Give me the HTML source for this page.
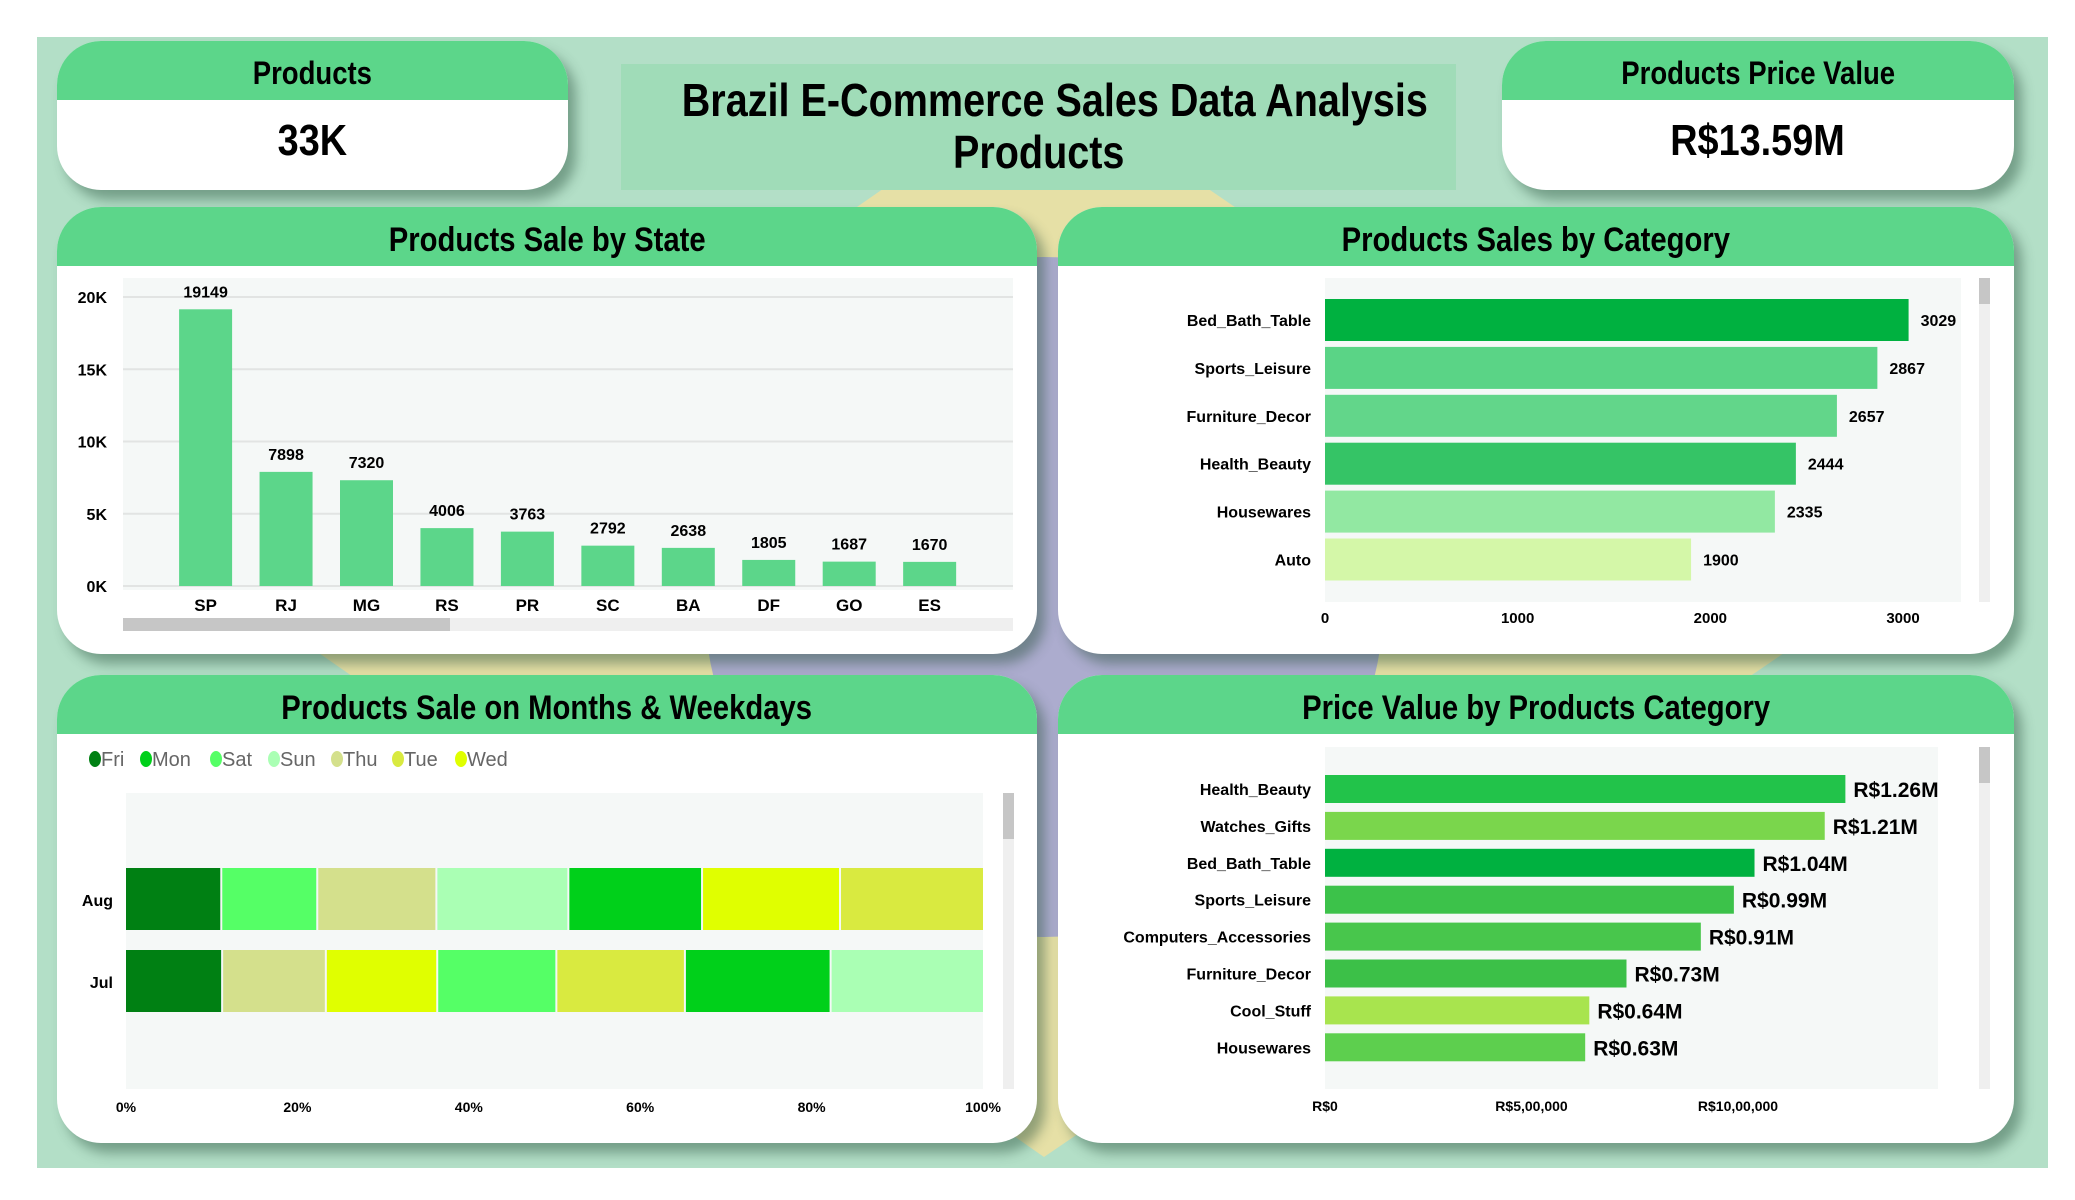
<!DOCTYPE html>
<html><head><meta charset="utf-8">
<style>
*{margin:0;padding:0;box-sizing:border-box}
body{width:2075px;height:1200px;background:#fff;position:relative;overflow:hidden;font-family:"Liberation Sans Narrow","Liberation Sans",sans-serif}
.panel{position:absolute;left:37px;top:37px;width:2011px;height:1131px;background:#b3dfc7;overflow:hidden}
.card{position:absolute;background:#fff;border-radius:44px;overflow:hidden;box-shadow:8px 10px 12px rgba(40,80,60,.45)}
.hdr{position:absolute;left:0;top:0;right:0;background:#5cd68a;color:#000;font-weight:bold;text-align:center;white-space:nowrap}
.kpi{position:absolute;left:0;right:0;text-align:center;font-weight:bold;color:#000;white-space:nowrap}
.sq{display:inline-block;transform:scaleX(.86);transform-origin:center}
svg text{font-family:"Liberation Sans Narrow","Liberation Sans",sans-serif}
</style></head><body>
<div class="panel">
 <svg width="2011" height="1131" style="position:absolute;left:0;top:0">
  <polygon points="1007,40 1800,580 1007,1120 230,580" fill="#e6e0a6"/>
  <circle cx="1007" cy="560" r="340" fill="#acacce"/>
 </svg>
</div>
<div style="position:absolute;left:621px;top:64px;width:835px;height:126px;background:#a0dcb8;text-align:center;font-weight:bold;font-size:46px;line-height:52px;padding-top:10px;white-space:nowrap"><span class="sq">Brazil E-Commerce Sales Data Analysis</span><br><span class="sq">Products</span></div>

<div class="card" style="left:57px;top:41px;width:511px;height:149px">
 <div class="hdr" style="height:59px;font-size:32px;line-height:64px"><span class="sq">Products</span></div>
 <div class="kpi" style="top:72px;font-size:44px;line-height:56px"><span class="sq">33K</span></div>
</div>
<div class="card" style="left:1502px;top:41px;width:512px;height:149px">
 <div class="hdr" style="height:59px;font-size:32px;line-height:64px"><span class="sq">Products Price Value</span></div>
 <div class="kpi" style="top:72px;font-size:44px;line-height:56px"><span class="sq">R$13.59M</span></div>
</div>
<div class="card" style="left:57px;top:207px;width:980px;height:447px">
 <div class="hdr" style="height:59px;font-size:34px;line-height:66px"><span class="sq">Products Sale by State</span></div>
</div>
<div class="card" style="left:1058px;top:207px;width:956px;height:447px">
 <div class="hdr" style="height:59px;font-size:34px;line-height:66px"><span class="sq">Products Sales by Category</span></div>
</div>
<div class="card" style="left:57px;top:675px;width:980px;height:468px">
 <div class="hdr" style="height:59px;font-size:34px;line-height:66px"><span class="sq">Products Sale on Months &amp; Weekdays</span></div>
</div>
<div class="card" style="left:1058px;top:675px;width:956px;height:468px">
 <div class="hdr" style="height:59px;font-size:34px;line-height:66px"><span class="sq">Price Value by Products Category</span></div>
</div>

<svg id="ov" width="2075" height="1200" style="position:absolute;left:0;top:0"></svg>

<script>
const stateCats=["SP","RJ","MG","RS","PR","SC","BA","DF","GO","ES"];
const stateVals=[19149,7898,7320,4006,3763,2792,2638,1805,1687,1670];
const stateTicks=[0,5000,10000,15000,20000];
const stateTickLabels=["0K","5K","10K","15K","20K"];

const catNames=["Bed_Bath_Table","Sports_Leisure","Furniture_Decor","Health_Beauty","Housewares","Auto"];
const catVals=[3029,2867,2657,2444,2335,1900];
const catTicks=[0,1000,2000,3000];

const priceNames=["Health_Beauty","Watches_Gifts","Bed_Bath_Table","Sports_Leisure","Computers_Accessories","Furniture_Decor","Cool_Stuff","Housewares"];
const priceVals=[1.26,1.21,1.04,0.99,0.91,0.73,0.64,0.63];
const priceLabels=["R$1.26M","R$1.21M","R$1.04M","R$0.99M","R$0.91M","R$0.73M","R$0.64M","R$0.63M"];
const priceTicks=[0,0.5,1.0];
const priceTickLabels=["R$0","R$5,00,000","R$10,00,000"];

const months=["Aug","Jul"];
const weekdays=["Fri","Mon","Sat","Sun","Thu","Tue","Wed"];
const augOrder=["Fri","Sat","Thu","Sun","Mon","Wed","Tue"];
const augPct=[11.0,11.2,13.9,15.4,15.6,16.1,16.8];
const julOrder=["Fri","Thu","Wed","Sat","Tue","Mon","Sun"];
const julPct=[11.1,12.1,13.0,13.9,15.0,17.0,17.9];
const pctTicks=[0,20,40,60,80,100];

const NS="http://www.w3.org/2000/svg";
const ov=document.getElementById('ov');
function mk(tag,attrs,txt){const e=document.createElementNS(NS,tag);for(const k in attrs)e.setAttribute(k,attrs[k]);if(txt!==undefined)e.textContent=txt;ov.appendChild(e);return e;}

/* ---- State chart ---- */
const sX0=123,sX1=1013,sYTop=278,sY0=586,sY20=297;
const sy=v=>sY0-(v/20000)*(sY0-sY20);
const sx=i=>205.6+i*80.45;
let e=mk('rect',{x:sX0,y:sYTop,width:sX1-sX0,height:sY0-sYTop+4,fill:'#f5f8f7'});

stateTicks.forEach((t,i)=>{
 e=mk('line',{x1:sX0,x2:sX1,y1:sy(t),y2:sy(t),stroke:'#e2e4e3','stroke-width':2});
 
 e=mk('text',{x:107,y:sy(t)+6,'text-anchor':'end','font-size':16,'font-weight':'bold'},stateTickLabels[i]);
 
});
stateVals.forEach((v,i)=>{
 e=mk('rect',{x:sx(i)-26.5,y:sy(v),width:53,height:sY0-sy(v),fill:'#5cd68a'});
 
 e=mk('text',{x:sx(i),y:sy(v)-12,'text-anchor':'middle','font-size':16,'font-weight':'bold'},String(v));
 
 e=mk('text',{x:sx(i),y:611,'text-anchor':'middle','font-size':17,'font-weight':'bold'},stateCats[i]);
 
});
e=mk('rect',{x:sX0,y:618,width:sX1-sX0,height:13,fill:'#efefef'});

e=mk('rect',{x:sX0,y:618,width:327,height:13,fill:'#c6c6c6'});


/* ---- Category chart ---- */
const cX0=1325,cScale=578/3000;
const cx=v=>cX0+v*cScale;
const catColors=['#00b140','#5ad486','#62d68a','#35c466','#92e8a2','#d4f7a8'];
e=mk('rect',{x:cX0,y:278,width:636,height:324,fill:'#f5f8f7'});

catVals.forEach((v,i)=>{
 const y=299+i*47.9;
 e=mk('rect',{x:cX0,y:y,width:cx(v)-cX0,height:42,fill:catColors[i]});
 
 e=mk('text',{x:cx(v)+12,y:y+27,'font-size':16,'font-weight':'bold'},String(v));
 
 e=mk('text',{x:1311,y:y+27,'text-anchor':'end','font-size':16,'font-weight':'bold'},catNames[i]);
 
});
catTicks.forEach(t=>{
 e=mk('text',{x:cx(t),y:623,'text-anchor':'middle','font-size':15,'font-weight':'bold'},String(t));
 
});
e=mk('rect',{x:1979,y:278,width:11,height:324,fill:'#efefef'});

e=mk('rect',{x:1979,y:278,width:11,height:26,fill:'#c6c6c6'});


/* ---- Price chart ---- */
const pX0=1325,pScale=413;
const px=v=>pX0+v*pScale;
const priceColors=['#22c34a','#7ad64c','#00b140','#3cc24a','#48c64c','#3cc048','#a8e44e','#5dcf4e'];
e=mk('rect',{x:pX0,y:747,width:613,height:342,fill:'#f5f8f7'});

priceVals.forEach((v,i)=>{
 const y=775+i*36.9;
 e=mk('rect',{x:pX0,y:y,width:px(v)-pX0,height:28,fill:priceColors[i]});
 
 e=mk('text',{x:px(v)+8,y:y+22,'font-size':21,'font-weight':'bold'},priceLabels[i]);
 
 e=mk('text',{x:1311,y:y+20,'text-anchor':'end','font-size':16,'font-weight':'bold'},priceNames[i]);
 
});
priceTicks.forEach((t,i)=>{
 e=mk('text',{x:px(t),y:1111,'text-anchor':'middle','font-size':14,'font-weight':'bold'},priceTickLabels[i]);
 
});
e=mk('rect',{x:1979,y:747,width:11,height:342,fill:'#efefef'});

e=mk('rect',{x:1979,y:747,width:11,height:36,fill:'#c6c6c6'});


/* ---- Weekday chart ---- */
const dayColors={Fri:'#008013',Mon:'#00d01a',Sat:'#55ff66',Sun:'#aaffb4',Thu:'#d4e08c',Tue:'#d9ea40',Wed:'#e0ff00'};
const wX0=126,wX1=983;
const wx=p=>wX0+p/100*(wX1-wX0);
e=mk('rect',{x:wX0,y:793,width:wX1-wX0,height:296,fill:'#f5f8f7'});

const legX=[90,141,211,269,332,393,456];
weekdays.forEach((d,i)=>{
 e=mk('ellipse',{cx:legX[i]+5,cy:759,rx:6,ry:8,fill:dayColors[d]});
 
 e=mk('text',{x:legX[i]+11,y:766,'font-size':20,fill:'#666'},d);
 
});
[[augOrder,augPct,868],[julOrder,julPct,950]].forEach((r,ri)=>{
 let acc=0;
 r[1].forEach((p,i)=>{
  e=mk('rect',{x:wx(acc)+(i?2:0),y:r[2],width:wx(acc+p)-wx(acc)-(i?2:0),height:62,fill:dayColors[r[0][i]]});
  
  acc+=p;
 });
 e=mk('text',{x:113,y:r[2]+38,'text-anchor':'end','font-size':16,'font-weight':'bold'},months[ri]);
 
});
pctTicks.forEach(t=>{
 e=mk('text',{x:wx(t),y:1112,'text-anchor':'middle','font-size':14,'font-weight':'bold'},t+'%');
 
});
e=mk('rect',{x:1003,y:793,width:11,height:296,fill:'#efefef'});

e=mk('rect',{x:1003,y:793,width:11,height:46,fill:'#c6c6c6'});

</script>
</body></html>
